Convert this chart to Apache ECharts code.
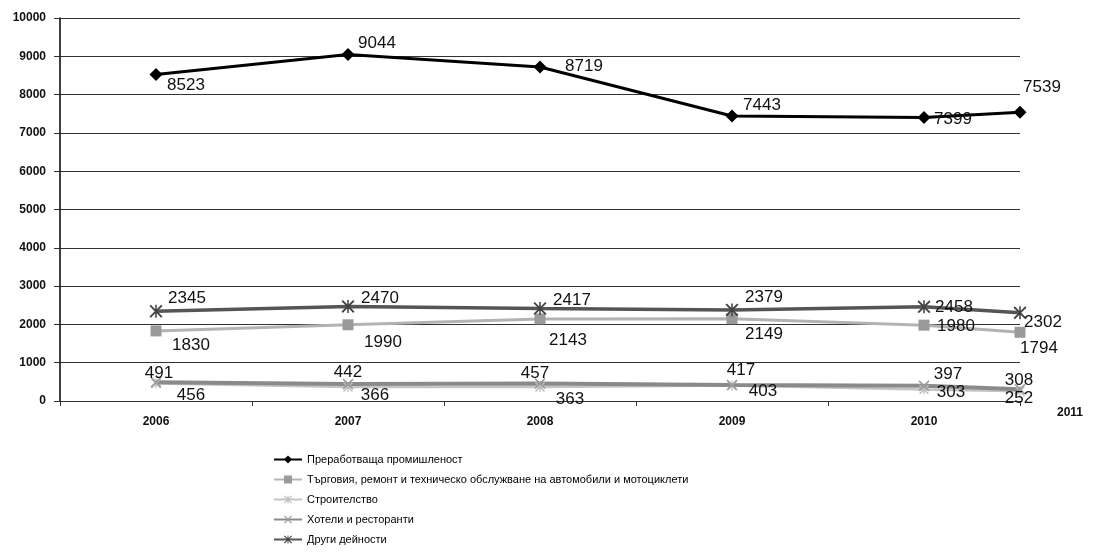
<!DOCTYPE html>
<html>
<head>
<meta charset="utf-8">
<script src="https://cdn.jsdelivr.net/npm/echarts@6/dist/echarts.min.js"></script>
<style>
  html, body { margin: 0; padding: 0; background: #fff; }
  #main { width: 1108px; height: 552px; }
</style>
</head>
<body>
<div id="main"></div>
<script>
// категории по оста X (видими надписи) и позиции на точките по годините
var years = ['2006', '2007', '2008', '2009', '2010'];
var lastYearLabel = '2011';
var xPos = [2006, 2007, 2008, 2009, 2010, 2010.5]; // последната точка е на ръба на графиката

// стойности по серии
var manufacturing = [8523, 9044, 8719, 7443, 7399, 7539];
var trade = [1830, 1990, 2143, 2149, 1980, 1794];
var construction = [456, 366, 363, 403, 303, 252];
var hotels = [491, 442, 457, 417, 397, 308];
var other = [2345, 2470, 2417, 2379, 2458, 2302];

var yTicks = [0, 1000, 2000, 3000, 4000, 5000, 6000, 7000, 8000, 9000, 10000];

var names = [
  'Преработваща промишленост',
  'Търговия, ремонт и техническо обслужване на автомобили и мотоциклети',
  'Строителство',
  'Хотели и ресторанти',
  'Други дейности'
];

// отмествания на надписите спрямо точките
var labelOffsets = {
  manufacturing: [[30, 11], [29, -11], [44, -1], [30, -11], [29, 2], [22, -25]],
  trade: [[35, 14], [35, 18], [28, 21], [32, 16], [32, 1], [19, 16]],
  construction: [[35, 12], [27, 8], [30, 12], [31, 6], [27, 3], [-1, 7]],
  hotels: [[3, -9], [0, -12], [-5, -10], [9, -15], [24, -11], [-1, -9]],
  other: [[31, -13], [32, -8], [32, -8], [32, -13], [30, 0], [23, 9]]
};

var FONT = "'Liberation Sans', Arial, sans-serif";

var xMark = 'path://M0,1 L1,0 L5,4 L9,0 L10,1 L6,5 L10,9 L9,10 L5,6 L1,10 L0,9 L4,5 Z';
var starMark = xMark + ' M4.4,0 L5.6,0 L5.6,10 L4.4,10 Z';

function buildData(values, offsets) {
  return values.map(function (v, i) {
    return {
      value: [xPos[i], v],
      label: { offset: offsets[i] }
    };
  });
}

function makeSeries(name, values, offsets, lineColor, width, symbol, size, symbolColor) {
  return {
    name: name,
    type: 'line',
    xAxisIndex: 1,
    clip: false,
    data: buildData(values, offsets),
    symbol: symbol,
    symbolSize: size,
    lineStyle: { color: lineColor, width: width },
    itemStyle: { color: symbolColor },
    label: {
      show: true,
      position: 'inside',
      align: 'center',
      verticalAlign: 'middle',
      fontFamily: FONT,
      fontSize: 17,
      color: '#111',
      formatter: function (p) { return p.value[1]; }
    },
    emphasis: { disabled: true },
    animation: false
  };
}

var chart = echarts.init(document.getElementById('main'), null, { renderer: 'canvas' });

var option = {
  backgroundColor: '#fff',
  animation: false,
  grid: { left: 60, right: 88, top: 18, bottom: 151 },
  legend: {
    orient: 'vertical',
    left: 268,
    top: 454,
    height: 98,
    padding: [0, 5, 0, 5],
    itemGap: 9,
    itemWidth: 28,
    itemHeight: 10,
    textStyle: { fontFamily: FONT, fontSize: 11, color: '#000' },
    data: names
  },
  xAxis: [
    {
      type: 'category',
      data: years,
      boundaryGap: true,
      axisLine: { lineStyle: { color: '#333', width: 1 } },
      axisTick: { show: true, length: 5, lineStyle: { color: '#333' } },
      axisLabel: { fontFamily: FONT, fontSize: 12, fontWeight: 'bold', color: '#111', margin: 15 },
      splitLine: { show: false },
      name: lastYearLabel,
      nameLocation: 'end',
      nameGap: 37,
      nameTextStyle: {
        fontFamily: FONT, fontSize: 12, fontWeight: 'bold', color: '#111',
        verticalAlign: 'top', padding: [6, 0, 0, 0]
      }
    },
    {
      type: 'value',
      min: 2005.5,
      max: 2010.5,
      show: false
    }
  ],
  yAxis: {
    type: 'value',
    min: yTicks[0],
    max: yTicks[yTicks.length - 1],
    interval: 1000,
    axisLine: { show: true, lineStyle: { color: '#000', width: 1.5 } },
    axisTick: { show: true, length: 6, lineStyle: { color: '#333' } },
    axisLabel: {
      fontFamily: FONT, fontSize: 12, fontWeight: 'bold', color: '#111', margin: 14,
      formatter: function (v) { return String(v); }
    },
    splitLine: { show: true, lineStyle: { color: '#333', width: 1 } }
  },
  series: [
    makeSeries(names[0], manufacturing, labelOffsets.manufacturing, '#000', 3, 'diamond', 13, '#000'),
    makeSeries(names[1], trade, labelOffsets.trade, '#b3b3b3', 3, 'rect', 11, '#9a9a9a'),
    makeSeries(names[2], construction, labelOffsets.construction, '#c4c4c4', 2.5, starMark, 10, '#bdbdbd'),
    makeSeries(names[3], hotels, labelOffsets.hotels, '#8a8a8a', 4, xMark, 11, '#9a9a9a'),
    makeSeries(names[4], other, labelOffsets.other, '#555', 3.5, starMark, 13, '#444')
  ]
};

chart.setOption(option);
</script>
</body>
</html>
